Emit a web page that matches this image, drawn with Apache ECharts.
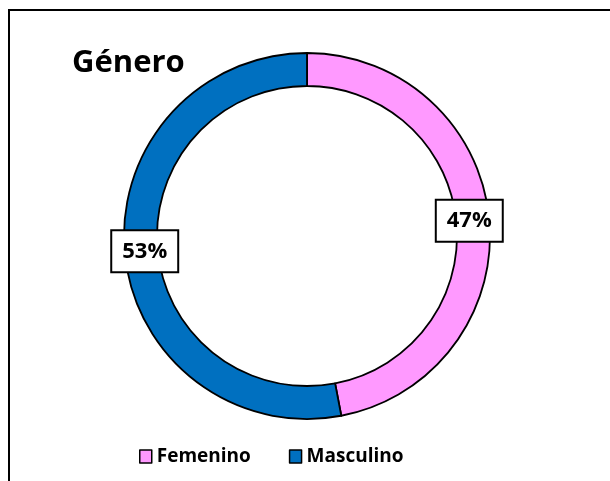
<!DOCTYPE html>
<html><head><meta charset="utf-8">
<script src="https://cdn.jsdelivr.net/npm/echarts@6/dist/echarts.min.js"></script>
<style>html,body{margin:0;padding:0;background:#fff}#c{width:610px;height:481px}</style>
</head><body><div id="c"></div>
<script>
const categories = ['Femenino', 'Masculino'];
const values = [47, 53];
const colors = ['#FF99FF', '#0070C0'];
const titleText = 'Género';
const font = '"Open Sans", sans-serif';

const chart = echarts.init(document.getElementById('c'));
chart.setOption({
  animation: false,
  title: {
    text: titleText, left: 67, top: 43,
    textStyle: { fontFamily: font, fontWeight: 'bold', fontSize: 31, color: '#000' }
  },
  graphic: [{
    type: 'rect', shape: { x: 9, y: 10, width: 700, height: 600 },
    style: { fill: 'none', stroke: '#000', lineWidth: 2 }, z: 100, silent: true
  }],
  legend: {
    data: categories.map((n, i) => ({ name: n, itemStyle: { color: colors[i], borderColor: '#000', borderWidth: 1.5 } })),
    left: 134, top: 442, icon: 'rect', itemWidth: 12, itemHeight: 13,
    itemGap: 38, selectedMode: false,
    textStyle: { fontFamily: font, fontWeight: 'bold', fontSize: 19, color: '#000' }
  },
  series: [{
    type: 'pie', center: [307, 236], radius: [150, 183], startAngle: 90, clockwise: true,
    avoidLabelOverlap: false,
    itemStyle: { borderColor: '#000', borderWidth: 1.8 },
    label: { show: false },
    labelLine: { show: false },
    emphasis: { disabled: true },
    data: categories.map((n, i) => ({ name: n, value: values[i], itemStyle: { color: colors[i] } }))
  }, {
    type: 'pie', center: [307, 236], radius: [137, 183], startAngle: 90, clockwise: true,
    avoidLabelOverlap: false, silent: true, z: 5,
    itemStyle: { color: 'rgba(0,0,0,0)', borderWidth: 0 },
    label: {
      show: true, position: 'inside', formatter: '{d}%',
      fontFamily: font, fontWeight: 'bold', fontSize: 22, color: '#000',
      backgroundColor: '#fff', borderColor: '#000', borderWidth: 2,
      padding: [10, 10, 8, 10]
    },
    labelLine: { show: false },
    emphasis: { disabled: true },
    data: categories.map((n, i) => ({ name: n, value: values[i] }))
  }]
});
</script></body></html>
